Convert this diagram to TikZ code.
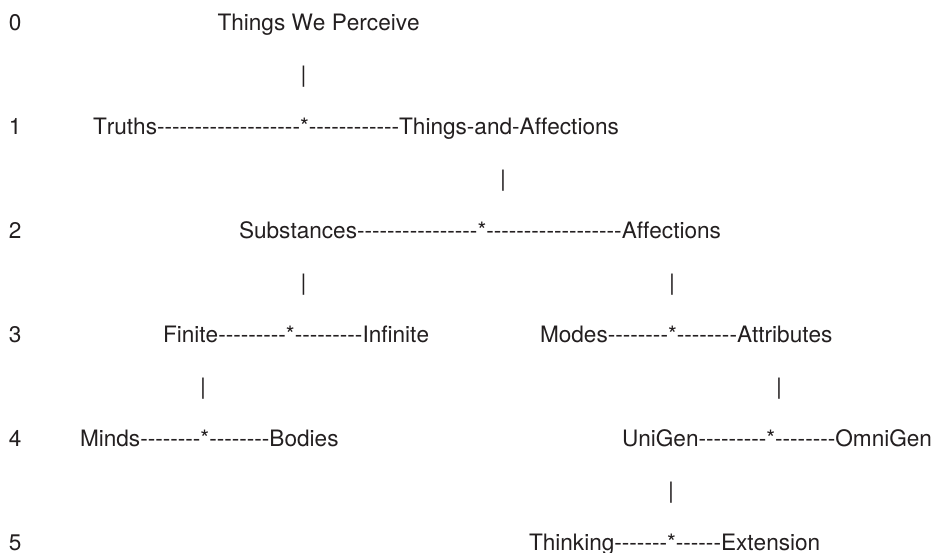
\documentclass[tikz,border=0pt]{standalone}
\usepackage{fontspec}
\setmainfont{TeX Gyre Heros}[Ligatures={TeXOff,CommonOff},Kerning=Off]
\definecolor{ink}{RGB}{35,31,32}
\begin{document}
\begin{tikzpicture}[x=1pt,y=-1pt,
  txt/.style={anchor=base west,inner sep=0pt,outer sep=0pt,text=ink,font=\fontsize{22.6}{27}\selectfont},
  bar/.style={anchor=base,inner sep=0pt,outer sep=0pt,text=ink,font=\fontsize{22.6}{27}\selectfont}]
\useasboundingbox[fill=white] (0,0) rectangle (944,552);
% row labels
\foreach \k/\y in {0/30,1/134,2/238,3/342,4/446,5/550}
  \node[txt] (lab\k) at (9,\y) {\k};
% level 0
\node[txt] (things) at (217.5,30) {Things We Perceive};
\node[bar] (p0) at (303.5,82) {|};
% level 1
\node[txt] (truths) at (93,134) {Truths-------------------*------------Things-and-Affections};
\node[bar] (p1) at (503,186) {|};
% level 2
\node[txt] (subst) at (239,238) {Substances----------------*------------------Affections};
\node[bar] (p2a) at (303.5,290) {|};
\node[bar] (p2b) at (672,290) {|};
% level 3
\node[txt] (finite) at (163,342) {Finite---------*---------Infinite};
\node[txt] (modes) at (540,342) {Modes--------*--------Attributes};
\node[bar] (p3a) at (203,394) {|};
\node[bar] (p3b) at (779,394) {|};
% level 4
\node[txt] (minds) at (80,446) {Minds--------*--------Bodies};
\node[txt] (unigen) at (622,446) {UniGen---------*--------OmniGen};
\node[bar] (p4) at (671,498) {|};
% level 5
\node[txt] (thinking) at (529,550) {Thinking-------*------Extension};
\end{tikzpicture}
\end{document}
